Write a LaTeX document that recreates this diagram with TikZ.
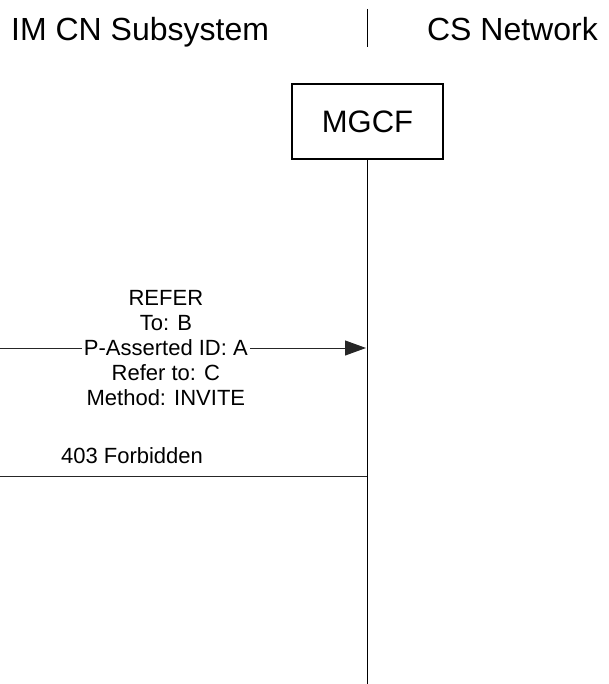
\documentclass[tikz,border=0pt]{standalone}
\usepackage{fontspec}
\setmainfont{Liberation Sans}
\usepackage{xcolor}
\usepackage{tikz}
\usetikzlibrary{positioning, calc, arrows.meta}

\begin{document}
\begin{tikzpicture}[x=1pt, y=-1pt,
    headtext/.style={inner sep=0pt, font=\fontsize{32}{38}\selectfont},
    entitybox/.style={draw, line width=1.3pt, minimum width=151pt, minimum height=75pt, font=\fontsize{31}{36}\selectfont},
    lifeline/.style={line width=1.4pt},
    msgline/.style={line width=1pt, draw=black!85},
    msgtext/.style={fill=white, inner xsep=2pt, inner ysep=0pt, align=center, font=\fontsize{22}{25}\selectfont}]

    % 0. Khung hình
    \useasboundingbox (0,0) rectangle (608,684);

    % 1. Tiêu đề hai miền
    \node[headtext, anchor=base west] (imcn) at (11, 41) {IM CN Subsystem};
    \node[headtext, anchor=base east] (csnet) at (598, 41) {CS Network};
    \coordinate (divTop) at (367, 9);
    \coordinate (divBot) at (367, 47);
    \draw[line width=1pt] (divTop) -- (divBot);

    % 2. Thực thể MGCF và đường sống
    \node[entitybox] (mgcf) at (367.5, 121.5) {MGCF};
    \coordinate (lifeEnd) at (367.5, 684);
    \draw[lifeline] (mgcf.south) -- (lifeEnd);

    % 3. Bản tin REFER (từ trái vào MGCF)
    \coordinate (referL) at (0, 348);
    \coordinate (referR) at (367, 348);
    \draw[msgline, -{Triangle[length=21pt, width=15pt]}, shorten >=1pt] (referL) -- (referR)
        node[msgtext, pos=0.452] (referTxt) {REFER\\To: B\\P-Asserted ID: A\\Refer to: C\\Method: INVITE};

    % 4. Bản tin 403 Forbidden
    \coordinate (forbL) at (0, 476);
    \coordinate (forbR) at (367, 476);
    \draw[msgline] (forbR) -- (forbL);
    \node[msgtext, fill=none, anchor=base] (forbTxt) at (132, 463) {403 Forbidden};

\end{tikzpicture}
\end{document}
